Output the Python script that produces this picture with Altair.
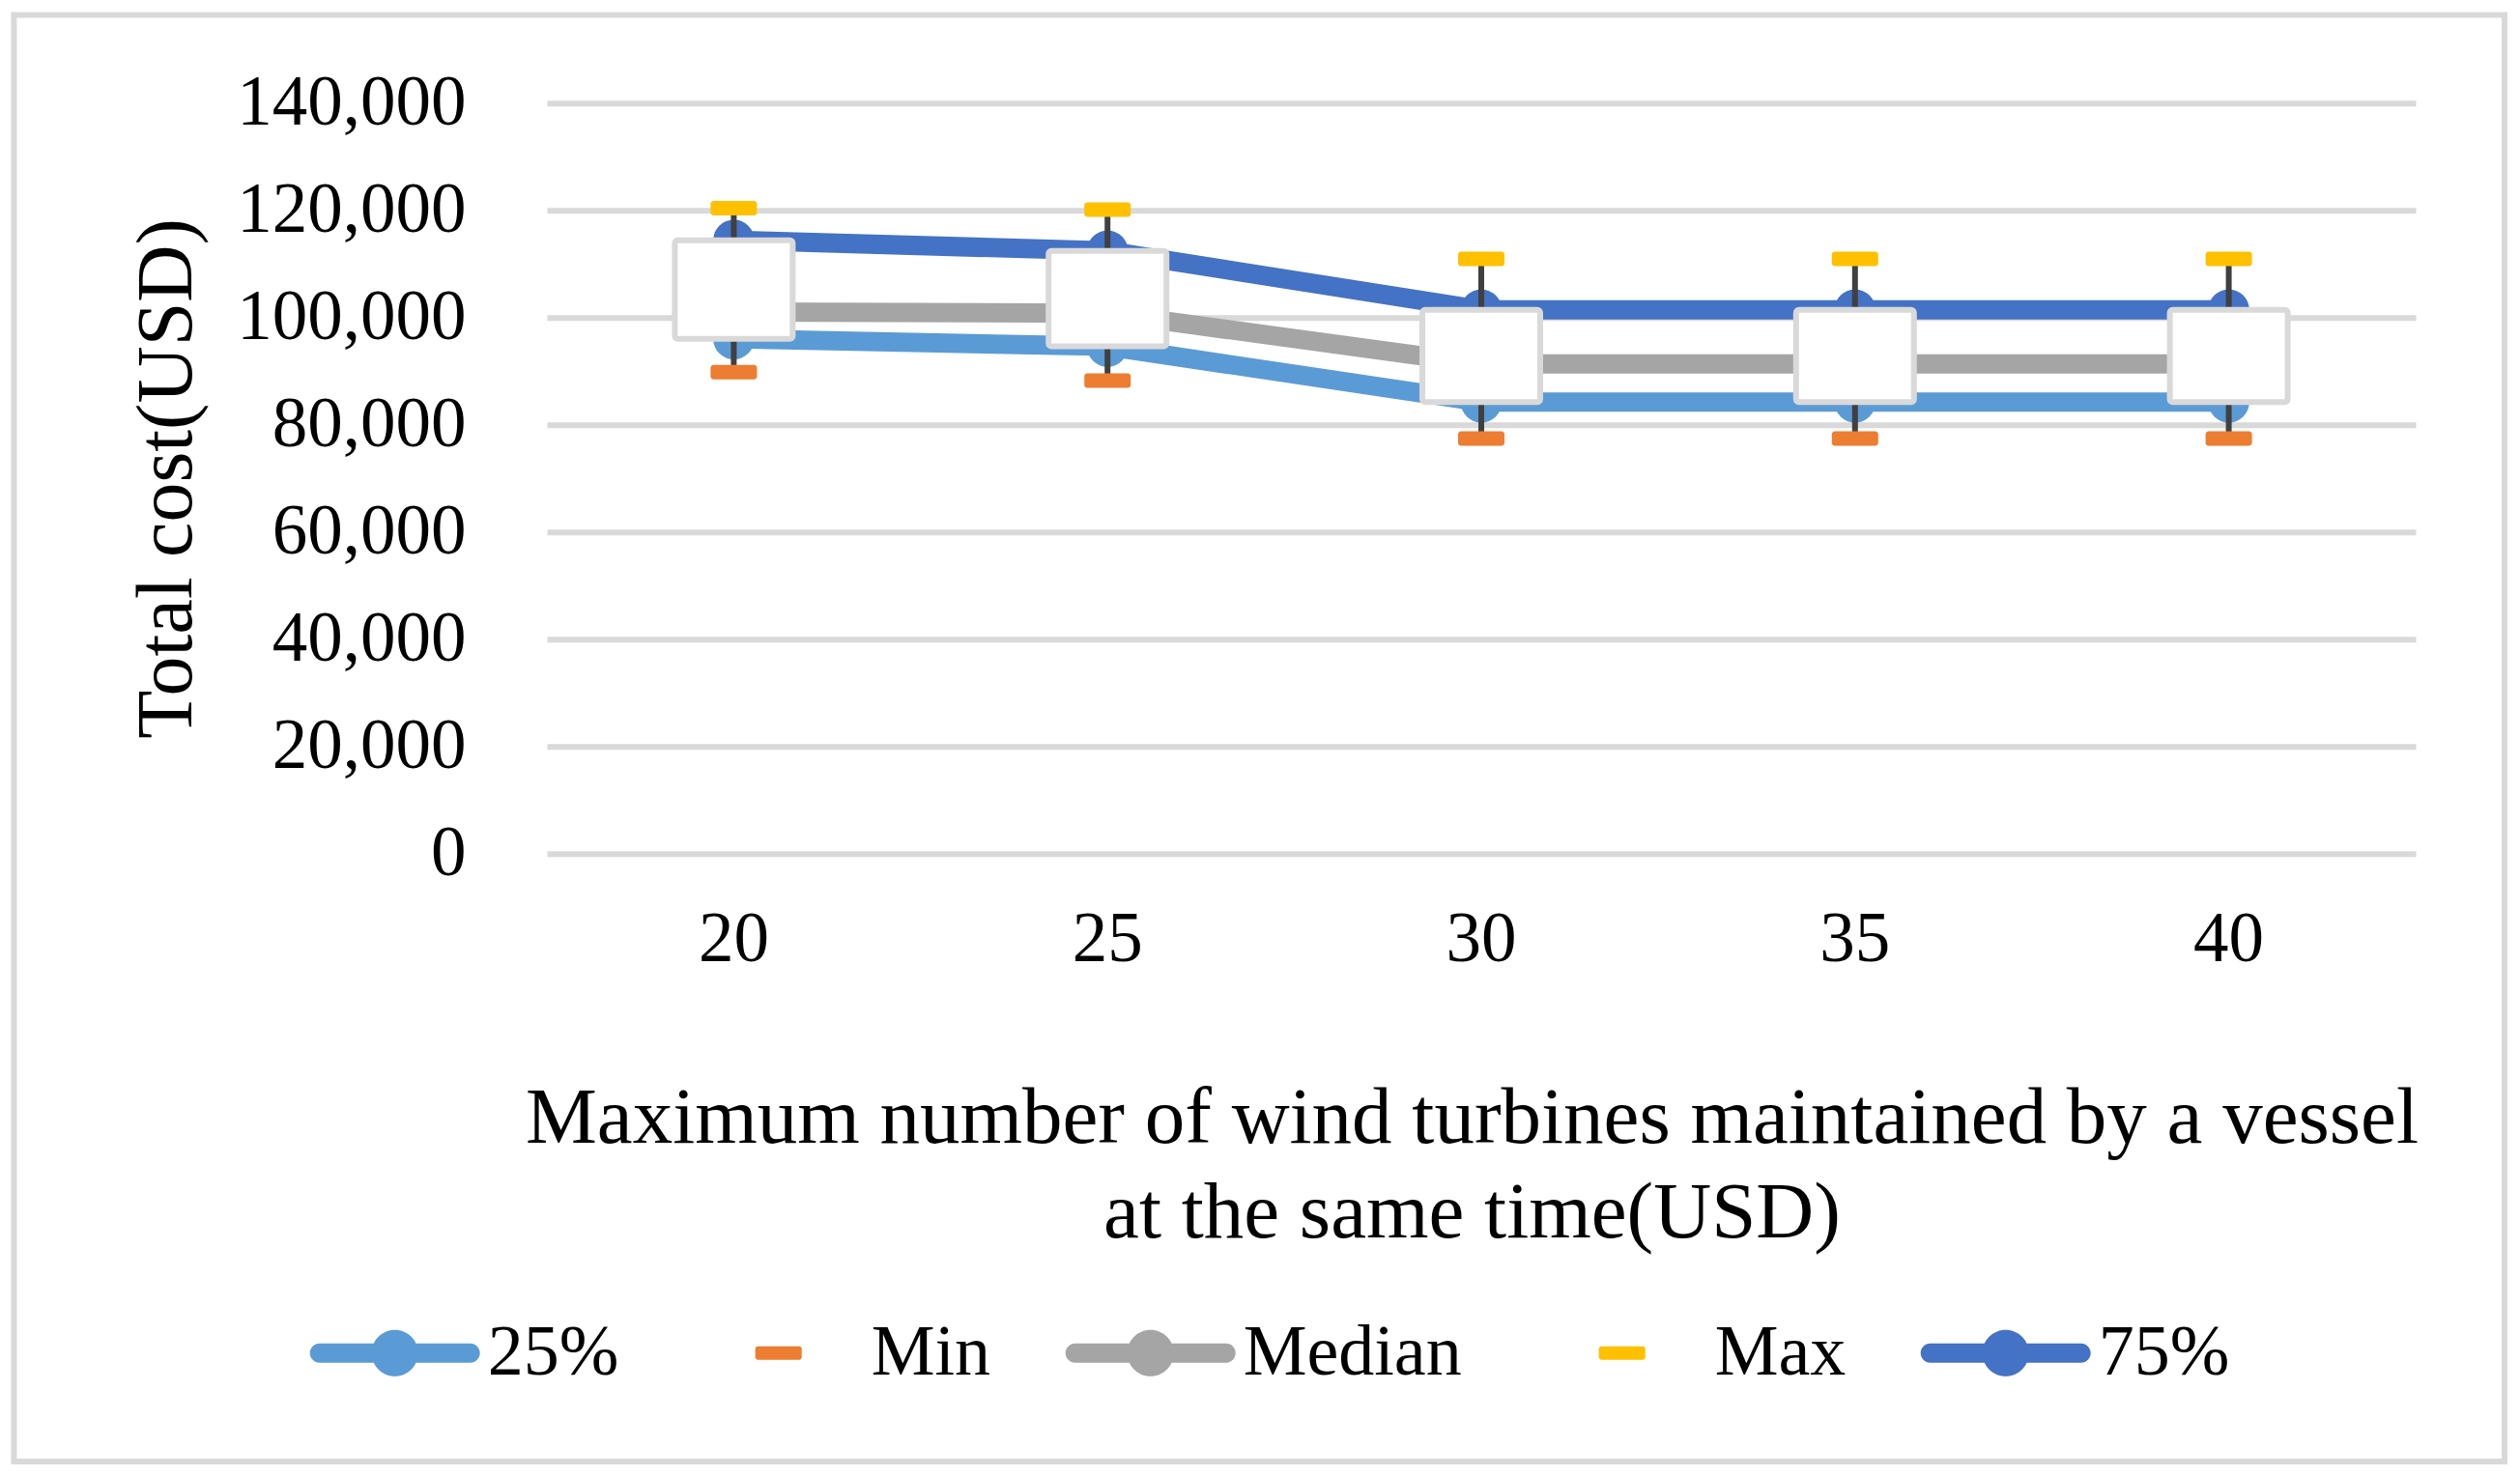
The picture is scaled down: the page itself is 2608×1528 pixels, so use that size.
import altair as alt
import pandas as pd

# ---------------- data ----------------
categories = [20, 25, 30, 35, 40]
max_vals = [120400, 120100, 110900, 110900, 110900]
q75_vals = [114400, 112400, 101400, 101400, 101400]
median_vals = [101000, 100800, 91300, 91300, 91300]
q25_vals = [96000, 94600, 84200, 84200, 84200]
min_vals = [89800, 88200, 77400, 77400, 77400]

series_names = ["25%", "Min", "Median", "Max", "75%"]
series_colors = ["#5B9BD5", "#ED7D31", "#A5A5A5", "#FFC000", "#4472C4"]
y_ticks = [0, 20000, 40000, 60000, 80000, 100000, 120000, 140000]
x_title = ["Maximum number of wind turbines maintained by a vessel",
           "at the same time(USD)"]
y_title = "Total cost(USD)"

FONT = "Liberation Serif"

wide = pd.DataFrame({"cat": categories, "mn": min_vals, "q25": q25_vals,
                     "med": median_vals, "q75": q75_vals, "mx": max_vals})
series_values = {"25%": q25_vals, "Min": min_vals, "Median": median_vals,
                 "Max": max_vals, "75%": q75_vals}
color_of = dict(zip(series_names, series_colors))
rows = []
for s in series_names:
    for c, v in zip(categories, series_values[s]):
        rows.append({"cat": c, "series": s, "value": v, "col": color_of[s]})
long = pd.DataFrame(rows)
line_df = long[long.series.isin(["25%", "Median", "75%"])]
tick_df = long[long.series.isin(["Min", "Max"])]

color_scale = alt.Scale(domain=series_names, range=series_colors)

# legend symbol paths (unit coordinates)
line_circle = ("M-0.886,-0.114 L0.886,-0.114 A0.114,0.114 0 0 1 0.886,0.114 "
               "L-0.886,0.114 A0.114,0.114 0 0 1 -0.886,-0.114 Z "
               "M0.273,0 A0.273,0.273 0 1 1 -0.273,0 A0.273,0.273 0 1 1 0.273,0 Z")
dash = ("M-0.243,-0.08 L0.243,-0.08 A0.03,0.03 0 0 1 0.273,-0.05 L0.273,0.05 "
        "A0.03,0.03 0 0 1 0.243,0.08 L-0.243,0.08 A0.03,0.03 0 0 1 -0.273,0.05 "
        "L-0.273,-0.05 A0.03,0.03 0 0 1 -0.243,-0.08 Z")
shape_scale = alt.Scale(domain=series_names,
                        range=[line_circle, dash, line_circle, dash, line_circle])

x_axis = alt.Axis(grid=False, domain=False, ticks=False, labelAngle=0,
                  labelFont=FONT, labelFontSize=73, labelColor="black",
                  labelPadding=53, titleFont=FONT, titleFontSize=83,
                  titleFontWeight="normal", titleColor="black",
                  titleX=957, titleY=299.7, titleAlign="center",
                  titleBaseline="alphabetic", titleLineHeight=98, titleLimit=0)
y_axis = alt.Axis(values=y_ticks, labelExpr="format(datum.value, ',')",
                  grid=True, gridColor="#D9D9D9", labelLimit=0,
                  gridWidth=6, domain=False, ticks=False, labelFont=FONT,
                  labelFontSize=73, labelColor="black", labelPadding=84,
                  titleFont=FONT, titleFontSize=82, titleFontWeight="normal",
                  titleColor="black", titleAngle=270, titleX=-369,
                  titleY=388.3, titleAlign="center", titleBaseline="alphabetic",
                  titleLimit=0)


def X():
    return alt.X("cat:O", scale=alt.Scale(paddingInner=0, paddingOuter=0),
                 axis=x_axis, title=x_title)


def Y(field):
    return alt.Y(field, type="quantitative",
                 scale=alt.Scale(domain=[0, 140000], nice=False),
                 axis=y_axis, title=y_title)


frame = alt.Chart(pd.DataFrame({"a": [0]})).mark_rect(
    fillOpacity=0, stroke="#D9D9D9", strokeWidth=6
).encode(x=alt.value(-551.6), x2=alt.value(2026),
         y=alt.value(-91.2), y2=alt.value(1406.3))

lines = alt.Chart(line_df).mark_line(strokeWidth=20).encode(
    x=X(), y=Y("value"),
    color=alt.Color("col:N", scale=None),
    detail="series:N")

points = alt.Chart(line_df).mark_circle(size=1810, opacity=1).encode(
    x=X(), y=Y("value"),
    color=alt.Color("col:N", scale=None))

rules = alt.Chart(wide).mark_rule(color="#404040", strokeWidth=6).encode(
    x=X(), y=Y("mn"), y2="mx")

boxes = alt.Chart(wide).mark_bar(size=122, fill="white", stroke="#D9D9D9",
                                 strokeWidth=6, cornerRadius=3, opacity=1).encode(
    x=X(), y=Y("q25"), y2="q75")

ticks = alt.Chart(tick_df).mark_tick(thickness=15, size=48, opacity=1,
                                     cornerRadius=3).encode(
    x=X(), y=Y("value"),
    color=alt.Color("col:N", scale=None))

legend = alt.Legend(title=None, orient="none", legendX=-245.3, legendY=1206,
                    direction="horizontal", columns=5, columnPadding=77,
                    symbolSize=30976, symbolStrokeWidth=0, symbolOpacity=1,
                    labelFont=FONT, labelFontSize=74, labelColor="black",
                    labelOffset=8, labelLimit=0, padding=0)

legend_layer = alt.Chart(long).mark_point(filled=True, size=1, opacity=0).encode(
    x=X(), y=Y("value"),
    color=alt.Color("series:N", scale=color_scale, legend=legend),
    shape=alt.Shape("series:N", scale=shape_scale, legend=legend))

chart = alt.layer(frame, lines, points, rules, boxes, ticks, legend_layer).properties(
    width=1934, height=776.6,
    autosize=alt.AutoSizeParams(type="none"),
    padding={"left": 558, "top": 98.7, "right": 100, "bottom": 636},
    background="white",
).configure_view(strokeWidth=0)

chart.save("out.html", embed_options={"renderer": "svg", "actions": False})
